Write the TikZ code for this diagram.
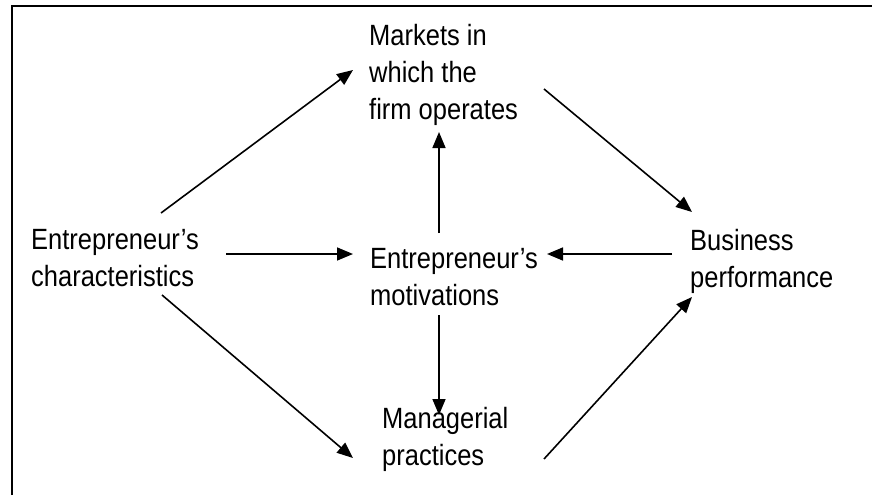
\documentclass[tikz,border=0pt]{standalone}
\usepackage{fontspec}
\setmainfont{Liberation Sans}[FakeStretch=0.87]
\usetikzlibrary{arrows.meta}
\tikzset{
  lbl/.style={font=\fontsize{29.3}{37}\selectfont, align=left, inner sep=0pt, anchor=base west},
  arr/.style={line width=1.6pt, -{Triangle[length=16pt,width=13pt]}},
  frame/.style={line width=2.2pt}
}
\begin{document}
\begin{tikzpicture}[x=1pt,y=-1pt]
\useasboundingbox (0,0) rectangle (872,495);
\draw[frame] (12,495) -- (12,6) -- (872,6);
% anchor = baseline of the last line
\node[lbl] (markets) at (369,119) {Markets in\\which the\\firm operates};
\node[lbl] (char) at (31,286) {Entrepreneur’s\\characteristics};
\node[lbl] (motiv) at (370,305) {Entrepreneur’s\\motivations};
\node[lbl] (business) at (690,287) {Business\\performance};
\node[lbl] (manag) at (382,465) {Managerial\\practices};
% connector end points
\coordinate (c1) at (161,213); \coordinate (m1) at (353,70);
\coordinate (m2) at (544,89);  \coordinate (b1) at (692,212);
\coordinate (v1) at (439,233); \coordinate (m3) at (439,132);
\coordinate (c2) at (226,254); \coordinate (v2) at (353,254);
\coordinate (b2) at (672,254); \coordinate (v3) at (547,254);
\coordinate (v4) at (439,315); \coordinate (g1) at (439,415);
\coordinate (c3) at (162,295); \coordinate (g2) at (353,458);
\coordinate (g3) at (544,459); \coordinate (b3) at (692,297);
\draw[arr] (c1) -- (m1);
\draw[arr] (m2) -- (b1);
\draw[arr] (v1) -- (m3);
\draw[arr] (c2) -- (v2);
\draw[arr] (b2) -- (v3);
\draw[arr] (v4) -- (g1);
\draw[arr] (c3) -- (g2);
\draw[arr] (g3) -- (b3);
\end{tikzpicture}
\end{document}
